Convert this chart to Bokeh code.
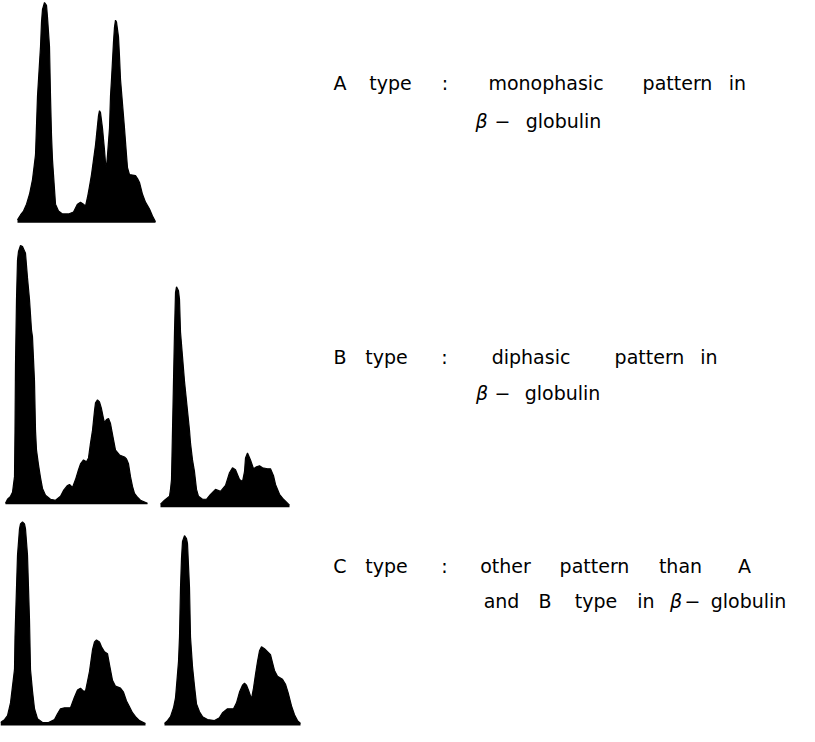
from bokeh.plotting import figure
from bokeh.models import Range1d, ColumnDataSource
from bokeh.core.properties import value
from bokeh.embed import file_html
from bokeh.resources import INLINE

# ---- densitometric profiles (position along strip, traced outline) ----
a_pos = [25, 28, 31, 34, 37, 40, 43, 44, 45, 48, 49, 50, 52, 54, 55, 57, 58, 59, 60, 62,
         63, 66, 70, 76, 81, 85, 88, 91, 93, 95, 97, 99, 101, 103, 105, 106, 107, 108, 110, 112,
         113, 114, 115, 117, 118, 119, 121, 122, 123, 124, 126, 127, 128, 130, 132, 134, 135, 137, 143, 145,
         147, 150, 153, 157, 160, 163]
a_top = [226, 221, 217, 210, 200, 185, 160, 130, 100, 50, 25, 12, 5, 8, 20, 50, 100, 140, 165, 195,
         210, 217, 220, 220, 218, 210, 208, 210, 212, 203, 192, 180, 165, 150, 130, 120, 115, 117, 133, 155,
         168, 172, 160, 133, 100, 83, 45, 30, 23, 25, 40, 60, 83, 108, 133, 160, 173, 180, 181, 184,
         188, 200, 208, 215, 222, 228]
a_base = 229

b1_pos = [13, 15, 18, 20, 22, 22.5, 23, 24, 25, 26, 28, 30, 33, 35, 37, 39, 40, 42, 43, 44,
          46, 48, 50, 53, 58, 63, 68, 71, 75, 77, 80, 83, 86, 88, 91, 94, 96, 98, 100, 102,
          103, 105, 107, 109, 111, 112, 114, 116, 118, 120, 123, 127, 132, 134, 136, 138, 140, 142, 145, 148,
          155]
b1_top = [514, 510, 507, 503, 487, 440, 373, 307, 267, 258, 252, 253, 260, 285, 307, 338, 345, 390, 440, 460,
          475, 488, 499, 506, 510, 511, 507, 501, 496, 495, 498, 490, 480, 474, 470, 472, 468, 453, 440, 420,
          412, 409, 411, 418, 428, 432, 429, 428, 433, 444, 460, 465, 467, 469, 474, 487, 497, 504, 508, 511,
          514]
b1_base = 515

b2_pos = [168, 172, 177, 178, 179, 180, 181, 182, 183, 184, 186, 187, 188, 190, 192, 195, 197, 198, 200, 202,
          204, 206, 210, 214, 218, 223, 228, 233, 237, 240, 243, 247, 250, 252, 253, 255, 258, 261, 264, 267,
          270, 275, 278, 281, 283, 287, 291, 297]
b2_top = [515, 511, 507, 500, 490, 440, 390, 340, 300, 294, 298, 307, 340, 365, 390, 420, 440, 453, 470, 482,
          500, 507, 510, 510, 505, 500, 502, 496, 483, 478, 480, 490, 492, 482, 468, 463, 470, 479, 477, 476,
          478, 479, 479, 486, 495, 505, 510, 516]
b2_base = 518

c1_pos = [8, 12, 15, 18, 20, 22, 22.5, 23, 24, 25, 27, 28, 30, 32, 33, 35, 36, 37, 38, 40,
          42, 45, 50, 56, 62, 65, 68, 72, 78, 82, 85, 88, 91, 93, 95, 97, 100, 102, 104, 107,
          109, 112, 115, 117, 120, 123, 128, 131, 134, 137, 140, 143, 147, 153]
c1_top = [737, 734, 730, 717, 700, 683, 650, 633, 600, 567, 540, 535, 533, 535, 540, 567, 600, 633, 683, 705,
          723, 733, 737, 737, 734, 728, 723, 722, 722, 711, 704, 702, 705, 705, 695, 685, 663, 655, 653, 655,
          660, 665, 667, 678, 694, 700, 702, 706, 715, 721, 727, 731, 735, 738]
c1_base = 740

c2_pos = [172, 175, 178, 181, 183, 184, 186, 187, 188, 189, 190, 192, 194, 195, 197, 198, 200, 202, 204, 207,
          210, 215, 222, 227, 230, 235, 241, 244, 247, 250, 252, 254, 256, 259, 261, 263, 265, 267, 269, 272,
          275, 278, 280, 282, 285, 290, 293, 296, 299, 302, 305, 308]
c2_top = [738, 735, 731, 722, 712, 700, 675, 650, 600, 570, 553, 547, 550, 555, 600, 650, 680, 700, 718, 726,
          731, 734, 735, 732, 727, 723, 723, 717, 706, 699, 697, 699, 704, 713, 702, 688, 675, 664, 660, 662,
          665, 668, 676, 684, 690, 693, 698, 708, 720, 729, 735, 738]
c2_base = 740

# ---- labels ----
words = ["A", "type", ":", "monophasic", "pattern", "in", "−", "globulin",
         "B", "type", ":", "diphasic", "pattern", "in", "−", "globulin",
         "C", "type", ":", "other", "pattern", "than", "A",
         "and", "B", "type", "in", "−", "globulin"]
words_x = [347.5, 398, 452.5, 553.5, 685, 745, 510, 571,
           347.5, 394, 452, 538.5, 657, 716.5, 510, 570,
           347.5, 394, 452, 513, 602, 688, 752,
           509, 552.5, 603.5, 653.5, 700, 756]
words_y = [87, 87, 87, 87, 87, 87, 125, 125,
           365, 365, 365, 365, 365, 365, 402, 402,
           578, 578, 578, 578, 578, 578, 578,
           613, 613, 613, 613, 613, 613]
beta = ["β", "β", "β"]
beta_x = [489, 489.5, 683.5]
beta_y = [125, 402, 613]

p = figure(width=799, height=726, output_backend="svg", toolbar_location=None,
           x_range=Range1d(8, 807), y_range=Range1d(741, 3), min_border=0,
           background_fill_color="white", border_fill_color="white")
p.axis.visible = False
p.grid.visible = False
p.outline_line_color = None

for pos, top, base in [(a_pos, a_top, a_base), (b1_pos, b1_top, b1_base), (b2_pos, b2_top, b2_base),
                       (c1_pos, c1_top, c1_base), (c2_pos, c2_top, c2_base)]:
    src = ColumnDataSource(dict(x=pos, top=top, base=[base] * len(pos)))
    p.varea(x="x", y1="top", y2="base", source=src, fill_color="black")
    p.line(x="x", y="top", source=src, line_color="black", line_width=1.2)

wsrc = ColumnDataSource(dict(x=words_x, y=words_y, text=words))
p.text(x="x", y="y", text="text", source=wsrc, text_align="center", text_baseline="alphabetic",
       text_font=value("DejaVu Sans"), text_font_size=value("19px"), text_color="black")
bsrc = ColumnDataSource(dict(x=beta_x, y=beta_y, text=beta))
p.text(x="x", y="y", text="text", source=bsrc, text_align="center", text_baseline="alphabetic",
       text_font=value("DejaVu Sans"), text_font_size=value("19px"), text_font_style="italic",
       text_color="black")

open("out.html", "w").write(file_html(p, INLINE))
